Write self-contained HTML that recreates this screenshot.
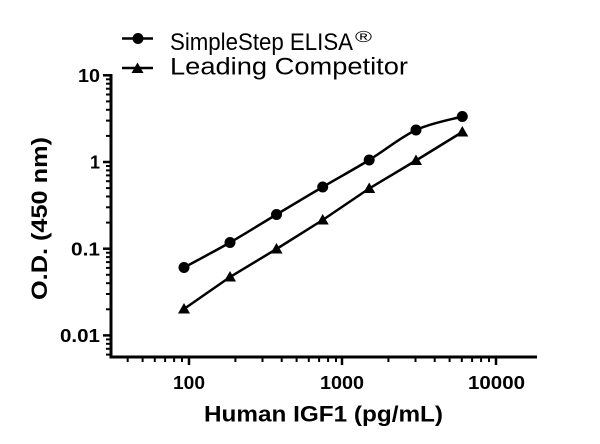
<!DOCTYPE html>
<html>
<head>
<meta charset="utf-8">
<style>
html,body{margin:0;padding:0;background:#fff;}
svg{display:block;}
text{font-family:"Liberation Sans",sans-serif;fill:#000;}
.tick{font-weight:bold;font-size:18px;}
.title{font-weight:bold;font-size:22px;}
.leg{font-size:24px;}
</style>
</head>
<body>
<svg width="600" height="444" viewBox="0 0 600 444" xmlns="http://www.w3.org/2000/svg">
<rect width="600" height="444" fill="#fff"/>
<g stroke="#000" fill="none">
  <!-- Y axis -->
  <line x1="111" y1="74" x2="111" y2="358.5" stroke-width="3"/>
  <!-- X axis -->
  <line x1="109.5" y1="357" x2="537" y2="357" stroke-width="3"/>
  <!-- Y major ticks -->
  <g stroke-width="2.5">
    <line x1="103" y1="75.3" x2="111" y2="75.3"/>
    <line x1="103" y1="162" x2="111" y2="162"/>
    <line x1="103" y1="248.7" x2="111" y2="248.7"/>
    <line x1="103" y1="335.4" x2="111" y2="335.4"/>
  </g>
  <!-- Y minor ticks -->
  <g stroke-width="2">
    <!-- decade 1-10 -->
    <line x1="106" y1="135.9" x2="111" y2="135.9"/>
    <line x1="106" y1="120.6" x2="111" y2="120.6"/>
    <line x1="106" y1="109.8" x2="111" y2="109.8"/>
    <line x1="106" y1="101.4" x2="111" y2="101.4"/>
    <line x1="106" y1="94.5" x2="111" y2="94.5"/>
    <line x1="106" y1="88.7" x2="111" y2="88.7"/>
    <line x1="106" y1="83.7" x2="111" y2="83.7"/>
    <line x1="106" y1="79.3" x2="111" y2="79.3"/>
    <!-- decade 0.1-1 -->
    <line x1="106" y1="222.6" x2="111" y2="222.6"/>
    <line x1="106" y1="207.3" x2="111" y2="207.3"/>
    <line x1="106" y1="196.5" x2="111" y2="196.5"/>
    <line x1="106" y1="188.1" x2="111" y2="188.1"/>
    <line x1="106" y1="181.2" x2="111" y2="181.2"/>
    <line x1="106" y1="175.4" x2="111" y2="175.4"/>
    <line x1="106" y1="170.4" x2="111" y2="170.4"/>
    <line x1="106" y1="166" x2="111" y2="166"/>
    <!-- decade 0.01-0.1 -->
    <line x1="106" y1="309.3" x2="111" y2="309.3"/>
    <line x1="106" y1="294" x2="111" y2="294"/>
    <line x1="106" y1="283.2" x2="111" y2="283.2"/>
    <line x1="106" y1="274.8" x2="111" y2="274.8"/>
    <line x1="106" y1="267.9" x2="111" y2="267.9"/>
    <line x1="106" y1="262.1" x2="111" y2="262.1"/>
    <line x1="106" y1="257.1" x2="111" y2="257.1"/>
    <line x1="106" y1="252.7" x2="111" y2="252.7"/>
    <!-- below 0.01 -->
    <line x1="106" y1="339.4" x2="111" y2="339.4"/>
    <line x1="106" y1="343.8" x2="111" y2="343.8"/>
    <line x1="106" y1="348.8" x2="111" y2="348.8"/>
    <line x1="106" y1="354.6" x2="111" y2="354.6"/>
  </g>
  <!-- X major ticks -->
  <g stroke-width="2.5">
    <line x1="189" y1="357" x2="189" y2="365"/>
    <line x1="342" y1="357" x2="342" y2="365"/>
    <line x1="496" y1="357" x2="496" y2="365"/>
  </g>
  <!-- X minor ticks -->
  <g stroke-width="2">
    <line x1="127.7" y1="357" x2="127.7" y2="362"/>
    <line x1="142.6" y1="357" x2="142.6" y2="362"/>
    <line x1="154.8" y1="357" x2="154.8" y2="362"/>
    <line x1="165.1" y1="357" x2="165.1" y2="362"/>
    <line x1="174.1" y1="357" x2="174.1" y2="362"/>
    <line x1="182" y1="357" x2="182" y2="362"/>

    <line x1="235.4" y1="357" x2="235.4" y2="362"/>
    <line x1="262.5" y1="357" x2="262.5" y2="362"/>
    <line x1="281.7" y1="357" x2="281.7" y2="362"/>
    <line x1="296.6" y1="357" x2="296.6" y2="362"/>
    <line x1="308.8" y1="357" x2="308.8" y2="362"/>
    <line x1="319.1" y1="357" x2="319.1" y2="362"/>
    <line x1="328.1" y1="357" x2="328.1" y2="362"/>
    <line x1="336" y1="357" x2="336" y2="362"/>

    <line x1="388.4" y1="357" x2="388.4" y2="362"/>
    <line x1="415.5" y1="357" x2="415.5" y2="362"/>
    <line x1="434.7" y1="357" x2="434.7" y2="362"/>
    <line x1="449.6" y1="357" x2="449.6" y2="362"/>
    <line x1="461.8" y1="357" x2="461.8" y2="362"/>
    <line x1="472.1" y1="357" x2="472.1" y2="362"/>
    <line x1="481.1" y1="357" x2="481.1" y2="362"/>
    <line x1="489" y1="357" x2="489" y2="362"/>
  </g>

  <!-- Series: SimpleStep (circles) curve -->
  <path d="M184,267.5 C191.7,263.3 214.6,251.3 230,242.5 C245.4,233.7 261.05,223.75 276.5,214.5 C291.95,205.25 307.25,196.1 322.7,187 C338.15,177.9 353.65,169.5 369.2,160 C384.75,150.5 400.5,137.25 416,130 C431.5,122.75 454.6,118.75 462.3,116.5" stroke-width="2.5"/>
  <!-- Series: Leading Competitor (triangles) line -->
  <polyline points="184,309 230,277 276.5,249 322.7,220 369.2,188.5 416,160.5 462.3,132" stroke-width="2.5"/>

  <!-- Legend lines -->
  <line x1="122" y1="38.5" x2="153" y2="38.5" stroke-width="2.5"/>
  <line x1="122" y1="68" x2="153" y2="68" stroke-width="2.5"/>
</g>

<g fill="#000">
  <circle cx="184" cy="267.5" r="5.5"/>
  <circle cx="230" cy="242.5" r="5.5"/>
  <circle cx="276.5" cy="214.5" r="5.5"/>
  <circle cx="322.7" cy="187" r="5.5"/>
  <circle cx="369.2" cy="160" r="5.5"/>
  <circle cx="416" cy="130" r="5.5"/>
  <circle cx="462.3" cy="116.5" r="5.5"/>

  <polygon points="184,303 178,313.5 190,313.5"/>
  <polygon points="230,271 224,281.5 236,281.5"/>
  <polygon points="276.5,243 270.5,253.5 282.5,253.5"/>
  <polygon points="322.7,214 316.7,224.5 328.7,224.5"/>
  <polygon points="369.2,182.5 363.2,193 375.2,193"/>
  <polygon points="416,154.5 410,165 422,165"/>
  <polygon points="462.3,126 456.3,136.5 468.3,136.5"/>

  <circle cx="138" cy="38.5" r="5.5"/>
  <polygon points="137.5,62.5 131.5,73 143.5,73"/>
</g>

<!-- Legend text -->
<text class="leg" x="170" y="50" textLength="183" lengthAdjust="spacingAndGlyphs">SimpleStep ELISA</text>
<text x="355" y="42" font-size="16" textLength="17" lengthAdjust="spacingAndGlyphs">®</text>
<text class="leg" x="170" y="74.5" textLength="238" lengthAdjust="spacingAndGlyphs">Leading Competitor</text>

<!-- Y tick labels -->
<text class="tick" x="100" y="82" text-anchor="end" textLength="22" lengthAdjust="spacingAndGlyphs">10</text>
<text class="tick" x="100" y="168.5" text-anchor="end">1</text>
<text class="tick" x="100" y="255.5" text-anchor="end" textLength="29" lengthAdjust="spacingAndGlyphs">0.1</text>
<text class="tick" x="100" y="342" text-anchor="end" textLength="40" lengthAdjust="spacingAndGlyphs">0.01</text>

<!-- X tick labels -->
<text class="tick" x="173" y="389" textLength="32" lengthAdjust="spacingAndGlyphs">100</text>
<text class="tick" x="320" y="389" textLength="44" lengthAdjust="spacingAndGlyphs">1000</text>
<text class="tick" x="468" y="389" textLength="57" lengthAdjust="spacingAndGlyphs">10000</text>

<!-- Axis titles -->
<text class="title" x="204" y="421.5" textLength="239" lengthAdjust="spacingAndGlyphs">Human IGF1 (pg/mL)</text>
<text class="title" transform="translate(47,300) rotate(-90)" x="0" y="0" textLength="163" lengthAdjust="spacingAndGlyphs">O.D. (450 nm)</text>
</svg>
</body>
</html>
